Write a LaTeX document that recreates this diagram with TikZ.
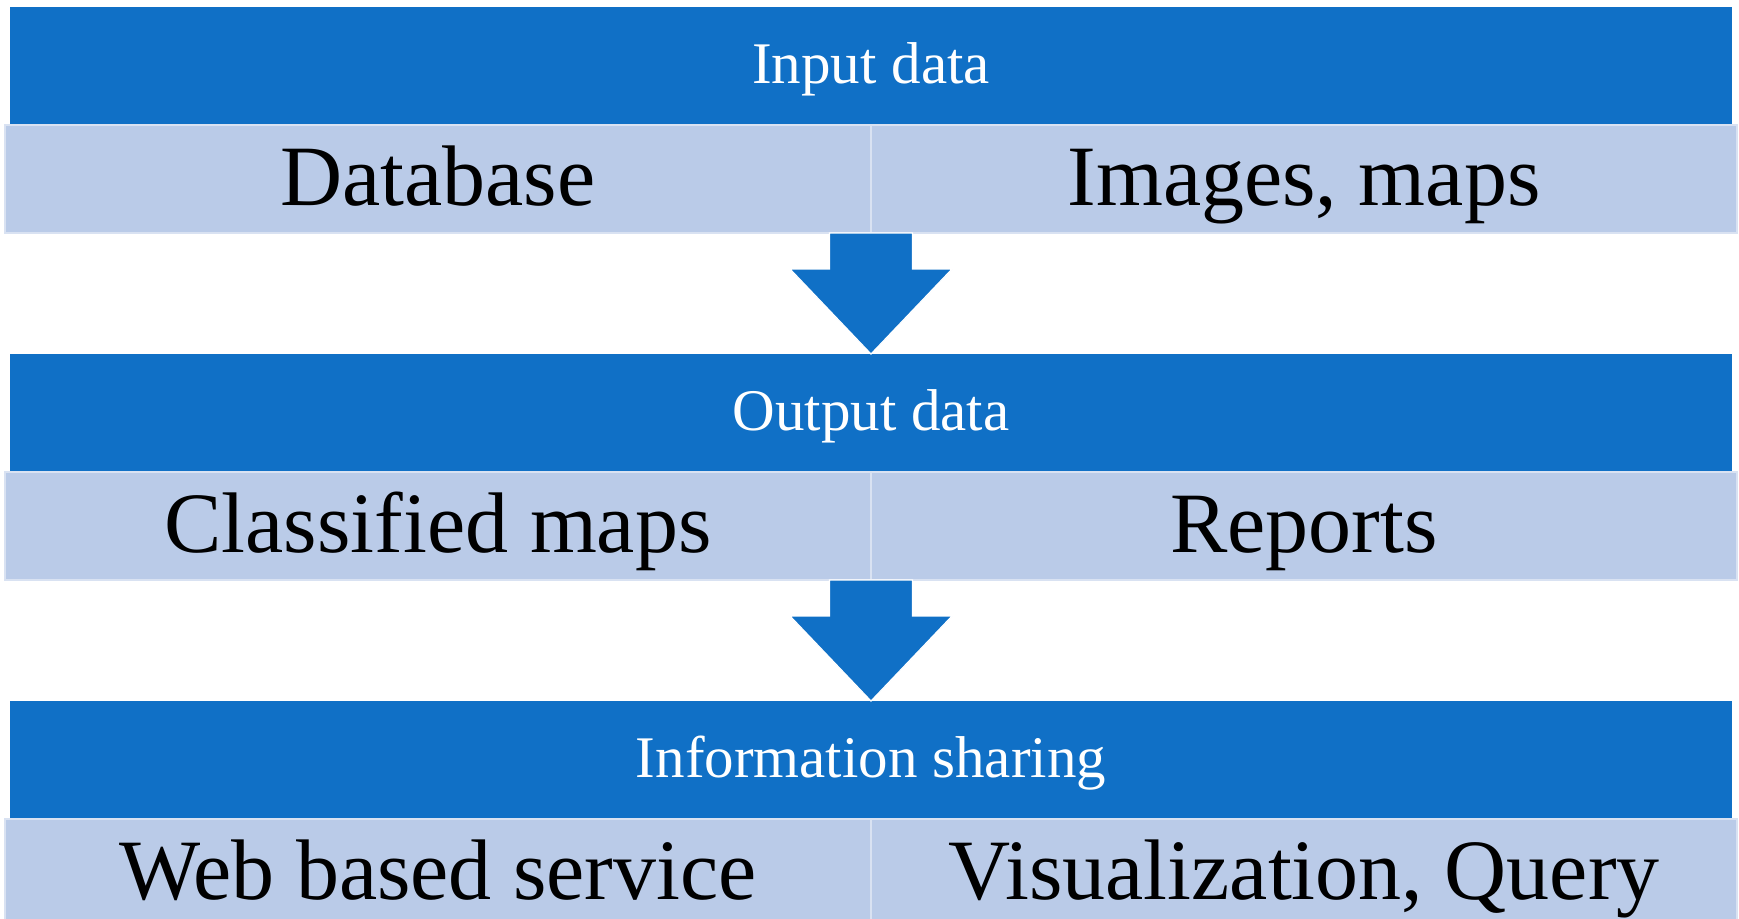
\documentclass[tikz,border=0pt]{standalone}
\usepackage{fontspec}
\setmainfont{Liberation Serif}
\usetikzlibrary{positioning,calc}
\definecolor{barblue}{RGB}{16,112,198}
\definecolor{cellblue}{RGB}{186,203,232}
\tikzset{
  headbar/.style={fill=barblue, text=white, minimum width=861pt, minimum height=59pt,
    inner sep=0pt, outer sep=0pt, text height=17pt, text depth=0pt,
    font=\fontsize{29.5}{34}\selectfont},
  cell/.style={fill=cellblue, draw=cellblue!55!white, line width=1.2pt,
    minimum width=433pt, minimum height=54pt, inner sep=0pt, outer sep=0pt,
    text height=26pt, text depth=0pt, font=\fontsize{43}{50}\selectfont},
  blockarrow/.style={fill=barblue, draw=white, line width=0.6pt}
}

\begin{document}
\begin{tikzpicture}
  [x=0.5pt, y=-0.5pt]
  \useasboundingbox (0,0) rectangle (1739,918);

  % input row
  \node[headbar] (inhead) at (871,66) {Input data};
  \node[cell, anchor=north east] (db) at (inhead.south) {Database};
  \node[cell, anchor=north west] (img) at (inhead.south) {Images, maps};

  % output row
  \node[headbar] (outhead) at (871,413) {Output data};
  \node[cell, anchor=north east] (cmaps) at (outhead.south) {Classified maps};
  \node[cell, anchor=north west] (rep) at (outhead.south) {Reports};

  % sharing row
  \node[headbar] (sharehead) at (871,760) {Information sharing};
  \node[cell, anchor=north east] (web) at (sharehead.south) {Web based service};
  \node[cell, anchor=north west] (vis) at (sharehead.south) {Visualization, Query};

  \foreach \up/\down in {db/outhead, cmaps/sharehead}{
    \draw[blockarrow] ($(\up.south east)+(-41.5,0)$) -- ++(0,36) -- ++(-39.5,0)
      -- (\down.north) -- ++(81,-85) -- ++(-39.5,0) -- ++(0,-36) -- cycle;
  }

\end{tikzpicture}
\end{document}
